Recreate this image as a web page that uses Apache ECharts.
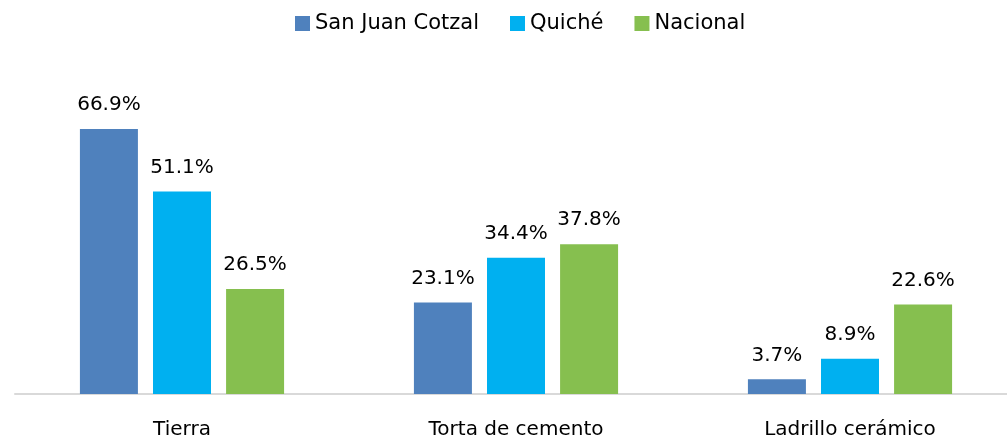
<!DOCTYPE html>
<html>
<head>
<meta charset="utf-8">
<script src="https://cdn.jsdelivr.net/npm/echarts@6/dist/echarts.min.js"></script>
<style>
  html, body { margin: 0; padding: 0; background: #fff; }
  #chart { width: 1007px; height: 443px; }
</style>
</head>
<body>
<div id="chart"></div>
<script>
const categories = ['Tierra', 'Torta de cemento', 'Ladrillo cerámico']
const seriesNames = ['San Juan Cotzal', 'Quiché', 'Nacional']
const sanJuanCotzal = [66.9, 23.1, 3.7]
const quiche = [51.1, 34.4, 8.9]
const nacional = [26.5, 37.8, 22.6]
const colors = ['#4f81bd', '#00b0f0', '#86bf4f']

const font = 'DejaVu Sans'
const chart = echarts.init(document.getElementById('chart'))

function barSeries(name, data, color) {
  return {
    name,
    type: 'bar',
    data,
    barWidth: 58,
    barGap: '26%',
    itemStyle: { color },
    label: {
      show: true,
      position: 'top',
      distance: 14,
      color: '#000',
      fontFamily: font,
      fontSize: 20,
      formatter: p => p.value.toFixed(1) + '%'
    }
  }
}

chart.setOption({
  animation: false,
  color: colors,
  legend: {
    left: 290,
    top: 8,
    itemWidth: 15,
    itemHeight: 15,
    itemGap: 31,
    icon: 'rect',
    textStyle: { fontFamily: font, fontSize: 21, color: '#000' },
    data: seriesNames
  },
  grid: {
    left: 15,
    width: 1002,
    top: 77,
    bottom: 49,
    outerBoundsMode: 'none',
    containLabel: false
  },
  xAxis: {
    type: 'category',
    data: categories,
    axisTick: { show: false },
    axisLine: { lineStyle: { color: '#d9d9d9', width: 2 } },
    axisLabel: {
      margin: 26,
      color: '#000',
      fontFamily: font,
      fontSize: 20
    }
  },
  yAxis: {
    type: 'value',
    min: 0,
    max: 80,
    show: false,
    splitLine: { show: false }
  },
  series: [
    barSeries(seriesNames[0], sanJuanCotzal, colors[0]),
    barSeries(seriesNames[1], quiche, colors[1]),
    barSeries(seriesNames[2], nacional, colors[2])
  ]
})
</script>
</body>
</html>
